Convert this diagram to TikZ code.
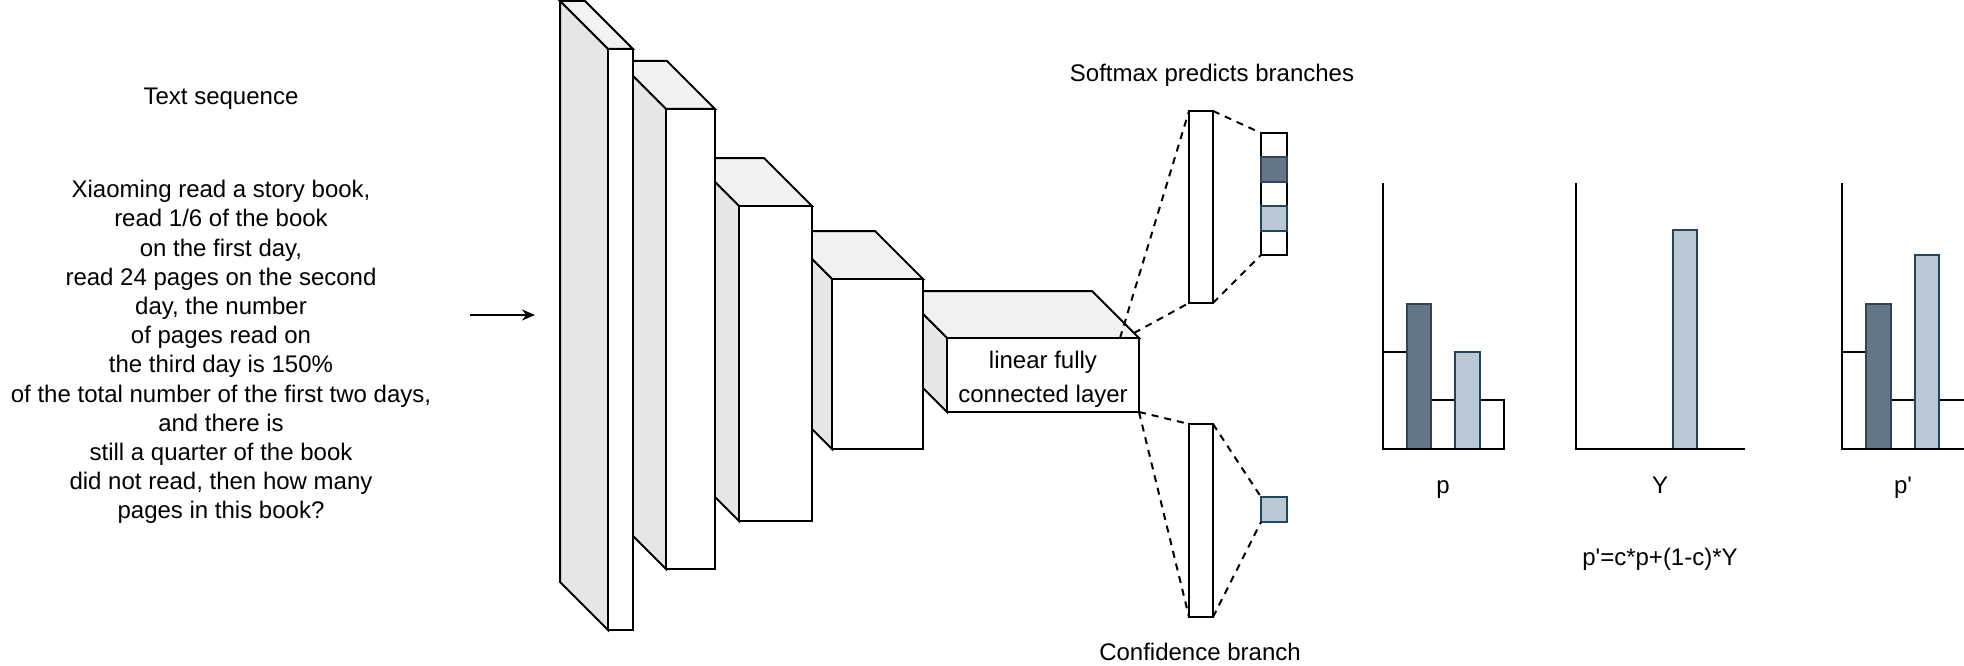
\documentclass[tikz,border=0pt]{standalone}
\usepackage{fontspec}
\setmainfont{Liberation Sans}[Ligatures=TeXOff]
\usetikzlibrary{arrows.meta}
\definecolor{sidegray}{HTML}{E6E6E6}
\definecolor{topgray}{HTML}{F2F2F2}
\definecolor{darkfill}{HTML}{647687}
\definecolor{darkline}{HTML}{314354}
\definecolor{lightfill}{HTML}{BAC8D3}
\definecolor{lightline}{HTML}{23445D}
\tikzset{
  pen/.style={draw=black, line width=2pt, line join=miter},
  front/.style={pen, fill=white, rectangle, inner sep=0pt, outer sep=0pt},
  dashline/.style={draw=black, line width=2pt, dash pattern=on 7pt off 6pt},
  cellw/.style={pen, fill=white, rectangle, inner sep=0pt, outer sep=0pt, minimum width=26pt, minimum height=24.4pt},
  celldark/.style={cellw, draw=darkline, fill=darkfill},
  celllight/.style={cellw, draw=lightline, fill=lightfill},
  txt/.style={font=\fontsize{24}{29.2}\selectfont, inner sep=0pt, align=center},
  barw/.style={draw=black, line width=2pt, fill=white},
  bard/.style={draw=darkline, line width=2pt, fill=darkfill},
  barl/.style={draw=lightline, line width=2pt, fill=lightfill},
  axis/.style={draw=black, line width=2pt},
}
% name, x1, y1, x2, y2, depth
\newcommand\mycube[6]{%
  \filldraw[pen, fill=topgray] (#2,#3) -- ({#2-#6},{#3-#6}) -- ({#4-#6},{#3-#6}) -- (#4,#3) -- cycle;
  \filldraw[pen, fill=sidegray] (#2,#3) -- ({#2-#6},{#3-#6}) -- ({#2-#6},{#5-#6}) -- (#2,#5) -- cycle;
  \node[front, minimum width={(#4-#2)*1pt}, minimum height={(#5-#3)*1pt}] (#1) at ({(#2+#4)/2},{(#3+#5)/2}) {};
}
\begin{document}
\begin{tikzpicture}[x=1pt, y=-1pt]
\useasboundingbox (0,0) rectangle (1964,666);

% text column
\node[txt] (title) at (221,99) {Text sequence};
\node[txt] (question) at (221,352) {Xiaoming read a story book,\\read 1/6 of the book\\on the first day,\\read 24 pages on the second\\day, the number\\of pages read on\\the third day is 150\%\\of the total number of the first two days,\\and there is\\still a quarter of the book\\did not read, then how many\\pages in this book?};
\coordinate (arrA) at (470,315);
\coordinate (arrB) at (535,315);
\draw[line width=2pt, -{Stealth[length=13pt, width=11pt]}] (arrA) -- (arrB);

% cubes (back to front)
\mycube{b5}{947}{338}{1139}{412}{47}
\mycube{b4}{832}{279}{923}{449}{48}
\mycube{b3}{739}{206}{812}{521}{48}
\mycube{b2}{666}{109}{715}{569}{48}
\mycube{b1}{608}{49}{633}{630}{48}
\node[font=\fontsize{24}{34}\selectfont, inner sep=0pt, align=center] (fctext) at (1043,379) {linear fully\\connected layer};

% softmax branch
\node[txt, anchor=base] (smlabel) at (1212,82) {Softmax predicts branches};
\node[front, minimum width=24pt, minimum height=192pt] (sm) at (1201,207) {};
\node[cellw] (v1) at (1274,145.2) {};
\node[cellw] (v3) at (1274,194) {};
\node[cellw] (v5) at (1274,242.8) {};
\node[celldark] (v2) at (1274,169.6) {};
\node[celllight] (v4) at (1274,218.4) {};
\coordinate (t1) at (1120,338);
\coordinate (t2) at (1134,333);
\draw[dashline] (t1) -- (sm.north west);
\draw[dashline] (t2) -- (sm.south west);
\draw[dashline] (sm.north east) -- (v1.north west);
\draw[dashline] (sm.south east) -- (v5.south west);

% confidence branch
\node[front, minimum width=24pt, minimum height=193pt] (cf) at (1201,520.5) {};
\node[celllight, minimum height=25pt] (cs) at (1274,509.5) {};
\draw[dashline] (b5.south east) -- (cf.north west);
\draw[dashline] (b5.south east) -- (cf.south west);
\draw[dashline] (cf.north east) -- (cs.north west);
\draw[dashline] (cf.south east) -- (cs.south west);
\node[txt] (cflabel) at (1200,652) {Confidence branch};

% chart p
\draw[barw] (1383,449) rectangle (1407,352);
\draw[barw] (1431,449) rectangle (1455,400);
\draw[barw] (1480,449) rectangle (1504,400);
\draw[bard] (1407,449) rectangle (1431,304);
\draw[barl] (1455,449) rectangle (1480,352);
\draw[axis] (1383,183) -- (1383,449) -- (1504,449);
\node[txt, anchor=base] (lp) at (1443,493) {p};

% chart Y
\draw[barl] (1673,449) rectangle (1697,230);
\draw[axis] (1576,183) -- (1576,449) -- (1745,449);
\node[txt, anchor=base] (lY) at (1660,493) {Y};
\node[txt, anchor=base] (formula) at (1660,565) {p'=c*p+(1-c)*Y};

% chart p'
\draw[barw] (1842,449) rectangle (1866,352);
\draw[barw] (1891,449) rectangle (1915,400);
\draw[barw] (1939,449) rectangle (1966,400);
\draw[bard] (1866,449) rectangle (1891,304);
\draw[barl] (1915,449) rectangle (1939,255);
\draw[axis] (1842,183) -- (1842,449) -- (1966,449);
\node[txt, anchor=base] (lpp) at (1903,493) {p'};
\end{tikzpicture}
\end{document}
